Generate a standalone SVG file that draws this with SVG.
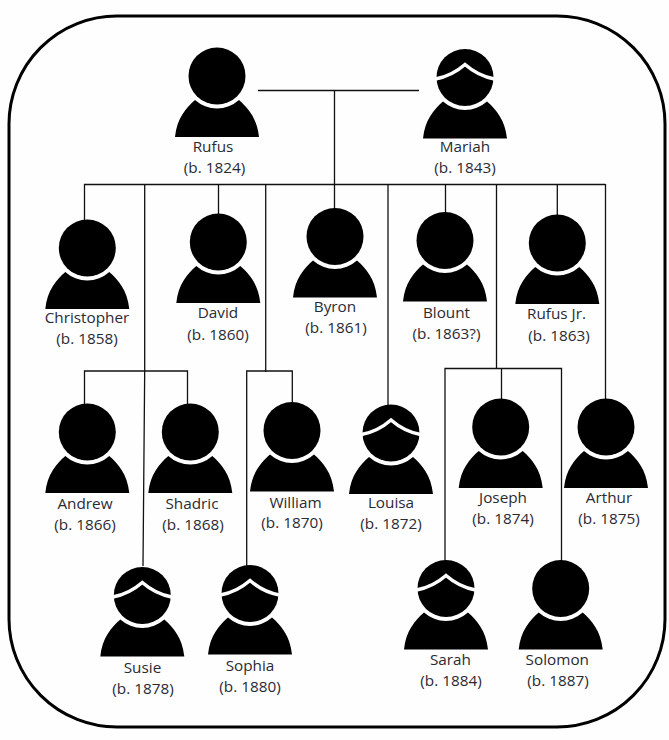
<svg xmlns="http://www.w3.org/2000/svg" width="669" height="740" viewBox="0 0 669 740">
<style>
.bg{fill:#fefefe}
.frame{fill:none;stroke:#000;stroke-width:3}
.c{fill:none;stroke:#111;stroke-width:1.3}
text{font-family:"Open Sans","Liberation Sans",sans-serif;font-size:15.300px;fill:#2a2a33;text-anchor:middle}
</style>
<defs>
<g id="man"><path d="M-42,61C-40,42-31,32-22,24A33 33 0 0 0 22,24C31,32 40,42 42,61Z" fill="#000"/><circle r="28.5" fill="#000"/></g>
<g id="woman"><use href="#man"/><path d="M-29.500,1.500C-16,-1-8,-6 0,-13C8,-6 16,-1 29.500,1.500" fill="none" stroke="#fefefe" stroke-width="3.5"/></g>
</defs>
<rect class="bg" width="669" height="740"/>
<rect class="frame" x="9" y="16" width="656" height="711" rx="108" ry="108"/>
<g id="connectors" class="c">
<path d="M258,90.500H419M334.500,90.500V212"/>
<path d="M84,184.500H605.500"/>
<path d="M84.500,184V224M218.500,184V216M144.700,184V370L143,566M265.700,184V372M388,184V406M445.500,184V214M496.500,184V368.500M557.300,184V216M605.500,184V400"/>
<path d="M84.500,404V371H187.500V404"/>
<path d="M246.700,566V371H292.300V404"/>
<path d="M445,566V368.500H561.500V566M501.500,368.500V400"/>
</g>
<g id="rufus"><use href="#man" x="217" y="76"/><text x="213" y="152">Rufus</text><text x="214.500" y="173">(b. 1824)</text></g>
<g id="mariah"><use href="#woman" x="465" y="77.500"/><text x="465" y="152">Mariah</text><text x="465" y="173">(b. 1843)</text></g>
<g id="christopher"><use href="#man" x="87.300" y="248"/><text x="87" y="323">Christopher</text><text x="87" y="344">(b. 1858)</text></g>
<g id="david"><use href="#man" x="218.300" y="242"/><text x="218" y="318">David</text><text x="218" y="339.500">(b. 1860)</text></g>
<g id="byron"><use href="#man" x="335" y="236.500"/><text x="335" y="312">Byron</text><text x="336" y="333">(b. 1861)</text></g>
<g id="blount"><use href="#man" x="445" y="240.500"/><text x="446.500" y="318">Blount</text><text x="446.500" y="339">(b. 1863?)</text></g>
<g id="rufus-jr"><use href="#man" x="557.300" y="243"/><text x="556.500" y="319">Rufus Jr.</text><text x="559" y="340.500">(b. 1863)</text></g>
<g id="andrew"><use href="#man" x="87.300" y="432"/><text x="85" y="509">Andrew</text><text x="85" y="530">(b. 1866)</text></g>
<g id="shadric"><use href="#man" x="190.300" y="432"/><text x="192" y="509">Shadric</text><text x="193" y="530">(b. 1868)</text></g>
<g id="william"><use href="#man" x="292" y="430.500"/><text x="295.500" y="507.500">William</text><text x="292" y="528">(b. 1870)</text></g>
<g id="louisa"><use href="#woman" x="391" y="433"/><text x="391" y="508">Louisa</text><text x="391" y="529">(b. 1872)</text></g>
<g id="joseph"><use href="#man" x="500.700" y="427"/><text x="503" y="503">Joseph</text><text x="503" y="524">(b. 1874)</text></g>
<g id="arthur"><use href="#man" x="606" y="427"/><text x="609" y="503">Arthur</text><text x="609" y="524">(b. 1875)</text></g>
<g id="susie"><use href="#woman" x="142.300" y="595.500"/><text x="142.500" y="673">Susie</text><text x="143" y="694">(b. 1878)</text></g>
<g id="sophia"><use href="#woman" x="250" y="593.500"/><text x="250" y="670.500">Sophia</text><text x="250" y="691.500">(b. 1880)</text></g>
<g id="sarah"><use href="#woman" x="446" y="588.500"/><text x="450.500" y="665">Sarah</text><text x="451" y="686">(b. 1884)</text></g>
<g id="solomon"><use href="#man" x="560.700" y="588.500"/><text x="557.300" y="665">Solomon</text><text x="558" y="686">(b. 1887)</text></g>
</svg>
